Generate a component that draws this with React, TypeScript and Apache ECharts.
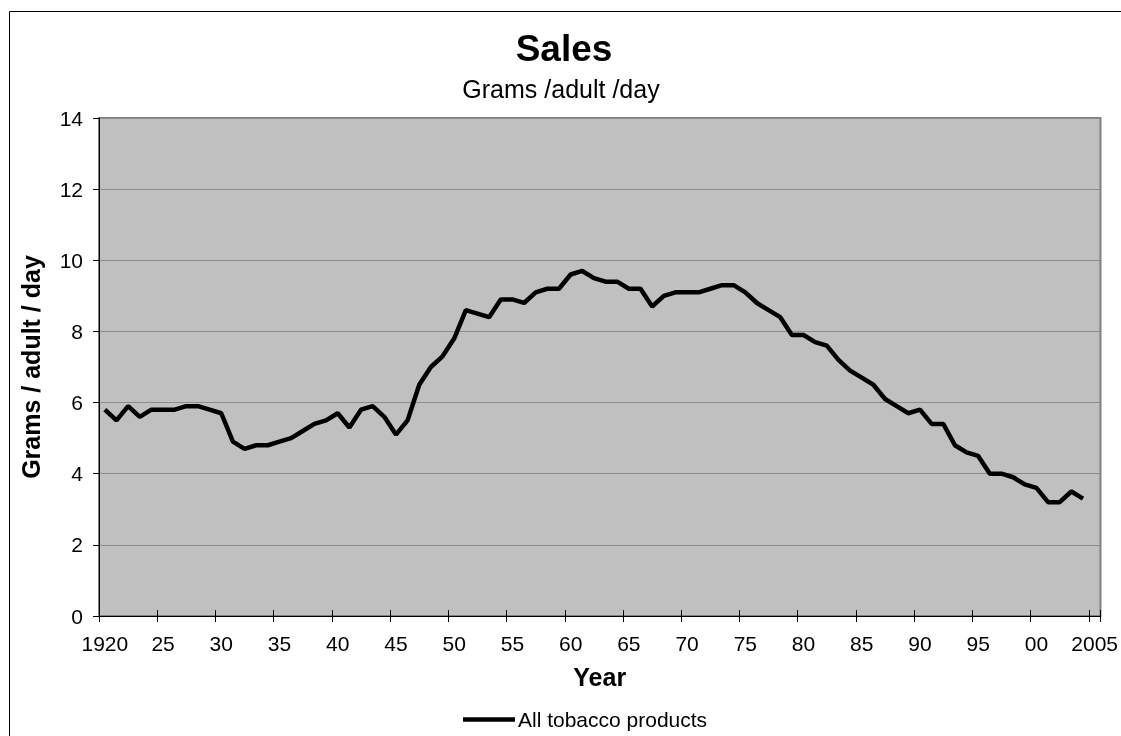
import React, { useEffect, useRef } from 'react';
import * as echarts from 'echarts';

// Categories: years 1920..2005 (axis spans through 2005)
const years: string[] = [];
for (let y = 1920; y <= 2005; y++) years.push(String(y));

// All tobacco products, grams/adult/day, 1920..2004
const tobacco: number[] = [
  5.8, 5.5, 5.9, 5.6, 5.8, 5.8, 5.8, 5.9, 5.9, 5.8, // 1920-29
  5.7, 4.9, 4.7, 4.8, 4.8, 4.9, 5.0, 5.2, 5.4, 5.5, // 1930-39
  5.7, 5.3, 5.8, 5.9, 5.6, 5.1, 5.5, 6.5, 7.0, 7.3, // 1940-49
  7.8, 8.6, 8.5, 8.4, 8.9, 8.9, 8.8, 9.1, 9.2, 9.2, // 1950-59
  9.6, 9.7, 9.5, 9.4, 9.4, 9.2, 9.2, 8.7, 9.0, 9.1, // 1960-69
  9.1, 9.1, 9.2, 9.3, 9.3, 9.1, 8.8, 8.6, 8.4, 7.9, // 1970-79
  7.9, 7.7, 7.6, 7.2, 6.9, 6.7, 6.5, 6.1, 5.9, 5.7, // 1980-89
  5.8, 5.4, 5.4, 4.8, 4.6, 4.5, 4.0, 4.0, 3.9, 3.7, // 1990-99
  3.6, 3.2, 3.2, 3.5, 3.3,                          // 2000-04
];

const xTickLabels = ['1920', '25', '30', '35', '40', '45', '50', '55', '60', '65', '70', '75', '80', '85', '90', '95', '00', '2005'];

const seriesName = 'All tobacco products';
const titleText = 'Sales';
const subtitleText = 'Grams /adult /day';
const yAxisName = 'Grams / adult / day';
const xAxisName = 'Year';

export default function App() {
  const ref = useRef<HTMLDivElement>(null);
  useEffect(() => {
    const chart = echarts.init(ref.current!, null, { renderer: 'svg' });
    const font = "'Liberation Sans', Arial, sans-serif";
    chart.setOption({
      animation: false,
      textStyle: { fontFamily: font },
      grid: {
        left: 99, top: 118, right: 19, bottom: 120,
        show: true, backgroundColor: '#c0c0c0', borderColor: '#808080', borderWidth: 2,
      },
      graphic: [
        {
          type: 'rect', z: -10,
          shape: { x: 9.5, y: 11.5, width: 1200, height: 800 },
          style: { fill: 'none', stroke: '#000', lineWidth: 1 },
        },
        {
          type: 'text', x: 564, y: 48,
          style: { text: titleText, fontSize: 37, fontWeight: 'bold', fontFamily: font, fill: '#000', align: 'center', verticalAlign: 'middle' },
        },
        {
          type: 'text', x: 561, y: 89,
          style: { text: subtitleText, fontSize: 25, fontFamily: font, fill: '#000', align: 'center', verticalAlign: 'middle' },
        },
      ],
      legend: {
        data: [seriesName],
        left: 463, top: 709, padding: 0,
        icon: 'rect', itemWidth: 52, itemHeight: 4.5,
        textStyle: { fontSize: 21, color: '#000', fontFamily: font, padding: [0, 0, 0, -2] },
      },
      xAxis: [
        {
          type: 'category', data: years, position: 'bottom', boundaryGap: true,
          name: xAxisName, nameLocation: 'middle', nameGap: 48,
          nameTextStyle: { fontSize: 25, fontWeight: 'bold', color: '#000', fontFamily: font },
          axisLine: { show: true, lineStyle: { color: '#000', width: 1 } },
          axisTick: { show: true, interval: 4, length: 6, alignWithLabel: false, lineStyle: { color: '#000' } },
          axisLabel: {
            interval: 4, margin: 17, fontSize: 21, color: '#000', fontFamily: font,
            formatter: (_v: string, idx: number) => xTickLabels[Math.round(idx / 5)] ?? '',
          },
          splitLine: { show: false },
        },
        {
          type: 'category', data: years, position: 'bottom', boundaryGap: true,
          axisLine: { show: false },
          axisTick: { show: true, interval: 4, length: 6, inside: true, alignWithLabel: false, lineStyle: { color: '#000' } },
          axisLabel: { show: false },
          splitLine: { show: false },
        },
      ],
      yAxis: {
        type: 'value', min: 0, max: 14, interval: 2,
        name: yAxisName, nameLocation: 'middle', nameGap: 56,
        nameTextStyle: { fontSize: 25, fontWeight: 'bold', color: '#000', fontFamily: font },
        axisLine: { show: true, lineStyle: { color: '#000', width: 1 } },
        axisTick: { show: true, length: 6, lineStyle: { color: '#000' } },
        axisLabel: { margin: 16, fontSize: 21, color: '#000', fontFamily: font },
        splitLine: { show: true, lineStyle: { color: '#8c8c8c', width: 1 } },
      },
      series: [
        {
          type: 'line', name: seriesName, data: tobacco, xAxisIndex: 0,
          symbol: 'none', showSymbol: false,
          lineStyle: { color: '#000', width: 4.5 },
          itemStyle: { color: '#000' },
        },
      ],
    });
    return () => chart.dispose();
  }, []);
  return <div ref={ref} style={{ position: 'fixed', left: 0, top: 0, width: 1121, height: 736 }} />;
}
